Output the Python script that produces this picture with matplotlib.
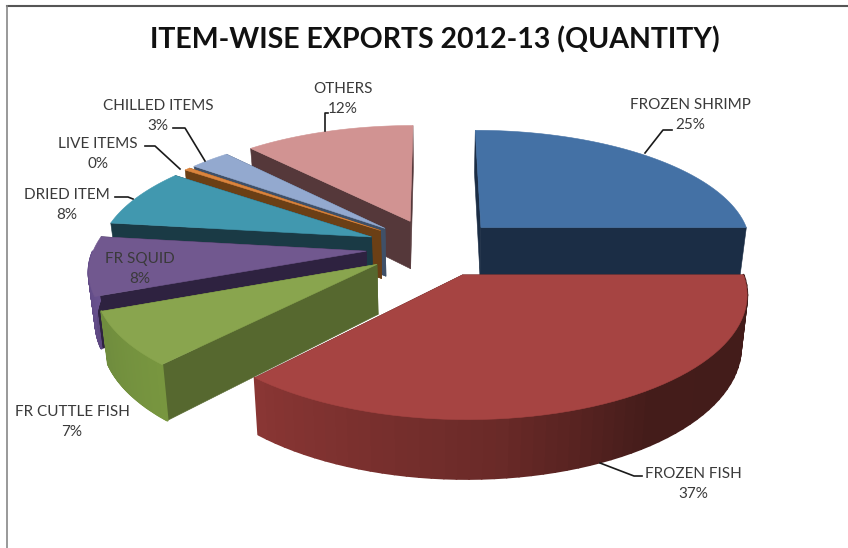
import numpy as np
import matplotlib
matplotlib.use('Agg')
import matplotlib.pyplot as plt
from matplotlib.patches import Polygon

# Datos
items = ['FROZEN SHRIMP', 'FROZEN FISH', 'FR CUTTLE FISH', 'FR SQUID',
         'DRIED ITEM', 'LIVE ITEMS', 'CHILLED ITEMS', 'OTHERS']
shares = [25.0, 36.7, 7.3, 8.0, 8.0, 0.4, 2.8, 11.8]

# Colores: cara superior, paredes rectas, borde curvo (paradas por angulo)
top_colors = ['#4471A5', '#A64442', '#89A54E', '#71588F', '#4198AF', '#DB843D', '#93A9CF', '#D19392']
wall_colors = ['#1B2D45', '#421C1A', '#56682F', '#2E2240', '#1A3A45', '#6B3F15', '#3F5068', '#55383A']
rim_stops = {
    1: ([95, 145, 175, 223], ['#421C1A', '#441C1A', '#6A2A28', '#8A3634']),
    2: ([223, 250], ['#78963F', '#6F8C3E']),
    3: ([248, 272], ['#5C4780', '#6A5290']),
}

# Proyeccion del pastel
cx, cy = 434, 247.5
rx, ry = 272, 116
persp = 0.14
height = 49
explode = 0.25

# Etiquetas: centro del texto y linea guia
label_pos = [(690, 115), (693, 484), (72, 422), (140, 269), (67, 205), (98, 154), (158, 116), (343, 99)]
leaders = [
    [(645, 153), (663, 130), (672, 130)],
    [(600, 463), (634, 476), (642, 476)],
    None,
    None,
    [(133, 199), (128, 197), (115, 197)],
    [(180, 169), (155, 146), (145, 146)],
    [(205, 161), (185, 128), (173, 128)],
    [(325, 131), (325, 113), (328, 113)],
]

plt.rcParams['font.family'] = ['Lato', 'DejaVu Sans']
fig = plt.figure(figsize=(8.48, 5.48), dpi=100)
ax = fig.add_axes([0, 0, 1, 1])
ax.set_xlim(0, 848)
ax.set_ylim(548, 0)
ax.axis('off')


def project(u, v):
    # Plano del pastel a pixeles, con perspectiva
    w = 1.0 / (1.0 + persp * v)
    return cx + rx * u * w, cy - ry * v * w, w


def floor(px, py, w):
    # Punto equivalente en la base de la rebanada
    return cx + (px - cx) * 0.98, py + height * w


def hex2rgb(c):
    return np.array(matplotlib.colors.to_rgb(c))


def slice_points(start, end, n=60):
    mid = np.radians((start + end) / 2)
    ou, ov = explode * np.sin(mid), explode * np.cos(mid)
    ang = np.linspace(start, end, n)
    us = ou + np.sin(np.radians(ang))
    vs = ov + np.cos(np.radians(ang))
    return (ou, ov), ang, us, vs


def draw_slice(i, start, end):
    (ou, ov), ang, us, vs = slice_points(start, end)
    ax_, ay_, aw = project(ou, ov)
    bx_, by_ = floor(ax_, ay_, aw)
    rim = [project(u, v) for u, v in zip(us, vs)]
    rim_b = [floor(*p) for p in rim]

    # Paredes rectas
    for k in (0, -1):
        pts = [(ax_, ay_), rim[k][:2], rim_b[k], (bx_, by_)]
        ax.add_patch(Polygon(pts, closed=True, fc=wall_colors[i], ec=wall_colors[i], lw=0.4))

    # Borde curvo, solo la parte que mira al frente
    for k in range(len(ang) - 1):
        a = (ang[k] + ang[k + 1]) / 2
        if a < 90 or a > 270:
            continue
        if i in rim_stops:
            stops, cols = rim_stops[i]
            rgb = [np.interp(a, stops, [hex2rgb(c)[ch] for c in cols]) for ch in range(3)]
        else:
            rgb = hex2rgb(wall_colors[i])
        pts = [rim[k][:2], rim[k + 1][:2], rim_b[k + 1], rim_b[k]]
        ax.add_patch(Polygon(pts, closed=True, fc=rgb, ec=rgb, lw=1.6, joinstyle='round'))

    # Cara superior
    pts = [(ax_, ay_)] + [p[:2] for p in rim]
    ax.add_patch(Polygon(pts, closed=True, fc=top_colors[i], ec=top_colors[i], lw=0.4))


edges = np.cumsum([0] + shares) * 360.0 / sum(shares)
# De atras hacia adelante
for i in [0, 7, 6, 5, 4, 3, 2, 1]:
    draw_slice(i, edges[i], edges[i + 1])

for i, name in enumerate(items):
    x, y = label_pos[i]
    ax.text(x, y, '%s\n%d%%' % (name, round(shares[i])), ha='center', va='center',
            fontsize=11, color='#3a3a3a', linespacing=1.6)
    if leaders[i] is not None:
        xs, ys = zip(*leaders[i])
        ax.plot(xs, ys, color='#1a1a1a', lw=1.2)

ax.text(435, 40, 'ITEM-WISE EXPORTS 2012-13 (QUANTITY)', ha='center', va='center',
        fontsize=20.5, fontweight='bold', color='#111111')

# Marco
ax.plot([7, 848], [6, 6], color='#555555', lw=1.5)
ax.plot([7, 7], [6, 548], color='#888888', lw=1.2)

plt.savefig('out.png', dpi=100)
plt.close('all')
